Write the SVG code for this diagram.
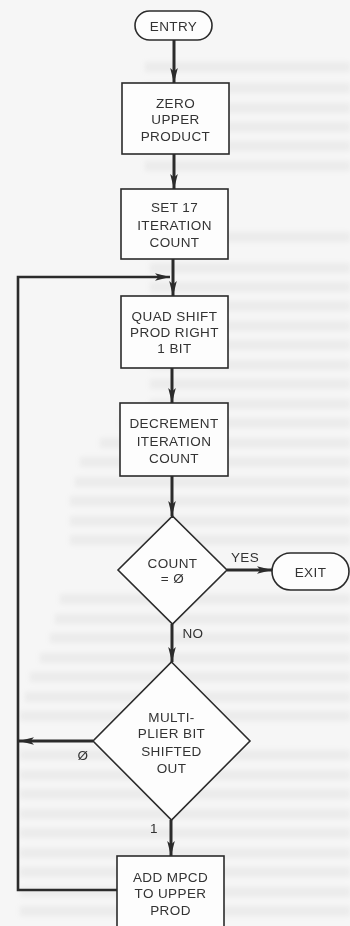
<svg xmlns="http://www.w3.org/2000/svg" width="350" height="926" viewBox="0 0 350 926">
  <style>
    .box { fill: #fdfdfd; stroke: #2b2b2b; stroke-width: 1.6; }
    .flow { fill: none; stroke: #2b2b2b; stroke-width: 3; }
    .loop { fill: none; stroke: #2b2b2b; stroke-width: 2.6; }
    .lbl { font-family: "Liberation Sans", Arial, sans-serif; font-size: 13.5px; fill: #333; letter-spacing: 0.4px; text-anchor: middle; }
    .ghost { fill: #b8b8b8; opacity: 0.16; }
  </style>
  <defs>
    <marker id="arrow" markerUnits="userSpaceOnUse" markerWidth="16" markerHeight="10" viewBox="0 0 16 10" refX="15" refY="5" orient="auto">
      <path d="M0,1.2 L15,5 L0,8.8 L3.5,5 Z" fill="#2b2b2b"/>
    </marker>
    <filter id="soft" x="-5%" y="-50%" width="110%" height="200%">
      <feGaussianBlur stdDeviation="2"/>
    </filter>
  </defs>

  <!-- paper -->
  <rect x="0" y="0" width="350" height="926" fill="#f6f6f6"/>

  <!-- faint show-through from the reverse of the page -->
  <g id="show-through" filter="url(#soft)">
    <rect class="ghost" x="145" y="62" width="205" height="10"/>
    <rect class="ghost" x="145" y="83" width="205" height="10"/>
    <rect class="ghost" x="145" y="103" width="205" height="10"/>
    <rect class="ghost" x="145" y="122" width="205" height="10"/>
    <rect class="ghost" x="145" y="141" width="205" height="10"/>
    <rect class="ghost" x="145" y="161" width="205" height="10"/>
    <rect class="ghost" x="150" y="232" width="200" height="10"/>
    <rect class="ghost" x="150" y="263" width="200" height="10"/>
    <rect class="ghost" x="150" y="282" width="200" height="10"/>
    <rect class="ghost" x="150" y="301" width="200" height="10"/>
    <rect class="ghost" x="150" y="321" width="200" height="10"/>
    <rect class="ghost" x="150" y="340" width="200" height="10"/>
    <rect class="ghost" x="150" y="360" width="200" height="10"/>
    <rect class="ghost" x="150" y="379" width="200" height="10"/>
    <rect class="ghost" x="150" y="399" width="200" height="10"/>
    <rect class="ghost" x="120" y="418" width="230" height="10"/>
    <rect class="ghost" x="100" y="438" width="250" height="10"/>
    <rect class="ghost" x="80" y="457" width="270" height="10"/>
    <rect class="ghost" x="75" y="477" width="275" height="10"/>
    <rect class="ghost" x="70" y="496" width="280" height="10"/>
    <rect class="ghost" x="70" y="516" width="280" height="10"/>
    <rect class="ghost" x="70" y="535" width="280" height="10"/>
    <rect class="ghost" x="60" y="594" width="290" height="10"/>
    <rect class="ghost" x="55" y="614" width="295" height="10"/>
    <rect class="ghost" x="50" y="633" width="300" height="10"/>
    <rect class="ghost" x="40" y="653" width="310" height="10"/>
    <rect class="ghost" x="30" y="672" width="320" height="10"/>
    <rect class="ghost" x="25" y="692" width="325" height="10"/>
    <rect class="ghost" x="20" y="711" width="330" height="10"/>
    <rect class="ghost" x="20" y="750" width="330" height="10"/>
    <rect class="ghost" x="20" y="770" width="330" height="10"/>
    <rect class="ghost" x="20" y="789" width="330" height="10"/>
    <rect class="ghost" x="20" y="809" width="330" height="10"/>
    <rect class="ghost" x="20" y="828" width="330" height="10"/>
    <rect class="ghost" x="20" y="848" width="330" height="10"/>
    <rect class="ghost" x="20" y="867" width="330" height="10"/>
    <rect class="ghost" x="20" y="887" width="330" height="10"/>
    <rect class="ghost" x="20" y="906" width="330" height="10"/>
  </g>

  <!-- connectors -->
  <g id="connectors">
    <line class="flow" x1="174" y1="40" x2="174" y2="83" marker-end="url(#arrow)"/>
    <line class="flow" x1="174" y1="154" x2="174" y2="189" marker-end="url(#arrow)"/>
    <line class="flow" x1="173" y1="259" x2="173" y2="296" marker-end="url(#arrow)"/>
    <line class="flow" x1="172" y1="368" x2="172" y2="403" marker-end="url(#arrow)"/>
    <line class="flow" x1="172" y1="476" x2="172" y2="516" marker-end="url(#arrow)"/>
    <line class="flow" x1="227" y1="570" x2="272" y2="570" marker-end="url(#arrow)"/>
    <line class="flow" x1="172" y1="624" x2="172" y2="662" marker-end="url(#arrow)"/>
    <line class="flow" x1="171" y1="820" x2="171" y2="856" marker-end="url(#arrow)"/>
    <line class="flow" x1="93" y1="741" x2="19" y2="741" marker-end="url(#arrow)"/>
    <polyline class="loop" points="117,890 18,890 18,277 170,277" marker-end="url(#arrow)"/>
    <text class="lbl" x="245" y="562">YES</text>
    <text class="lbl" x="193" y="638">NO</text>
    <text class="lbl" x="83" y="760">Ø</text>
    <text class="lbl" x="154" y="833">1</text>
  </g>

  <g id="entry">
    <rect class="box" x="135" y="11" width="77" height="29" rx="14.5"/>
    <text class="lbl" x="173.5" y="30.5">ENTRY</text>
  </g>

  <g id="zero-upper">
    <rect class="box" x="122" y="83" width="107" height="71"/>
    <text class="lbl" x="175.5" y="108">ZERO</text>
    <text class="lbl" x="175.5" y="124">UPPER</text>
    <text class="lbl" x="175.5" y="141">PRODUCT</text>
  </g>

  <g id="set-count">
    <rect class="box" x="121" y="189" width="107" height="70"/>
    <text class="lbl" x="174.5" y="212">SET 17</text>
    <text class="lbl" x="174.5" y="230">ITERATION</text>
    <text class="lbl" x="174.5" y="247">COUNT</text>
  </g>

  <g id="quad-shift">
    <rect class="box" x="121" y="296" width="107" height="72"/>
    <text class="lbl" x="174.5" y="321">QUAD SHIFT</text>
    <text class="lbl" x="174.5" y="337">PROD RIGHT</text>
    <text class="lbl" x="174.5" y="353">1 BIT</text>
  </g>

  <g id="decrement">
    <rect class="box" x="120" y="403" width="108" height="73"/>
    <text class="lbl" x="174" y="428">DECREMENT</text>
    <text class="lbl" x="174" y="446">ITERATION</text>
    <text class="lbl" x="174" y="463">COUNT</text>
  </g>

  <g id="count-zero">
    <polygon class="box" points="172.5,516 227,570 172.5,624 118,570"/>
    <text class="lbl" x="172.5" y="568">COUNT</text>
    <text class="lbl" x="172.5" y="583">= Ø</text>
  </g>

  <g id="exit">
    <rect class="box" x="272" y="553" width="77" height="37" rx="18.5"/>
    <text class="lbl" x="310.5" y="576.5">EXIT</text>
  </g>

  <g id="multiplier-bit">
    <polygon class="box" points="171.5,662 250,741 171.5,820 93,741"/>
    <text class="lbl" x="171.5" y="722">MULTI-</text>
    <text class="lbl" x="171.5" y="738">PLIER BIT</text>
    <text class="lbl" x="171.5" y="756">SHIFTED</text>
    <text class="lbl" x="171.5" y="773">OUT</text>
  </g>

  <g id="add-mpcd">
    <rect class="box" x="117" y="856" width="107" height="80"/>
    <text class="lbl" x="170.5" y="882">ADD MPCD</text>
    <text class="lbl" x="170.5" y="898">TO UPPER</text>
    <text class="lbl" x="170.5" y="915">PROD</text>
  </g>
</svg>
